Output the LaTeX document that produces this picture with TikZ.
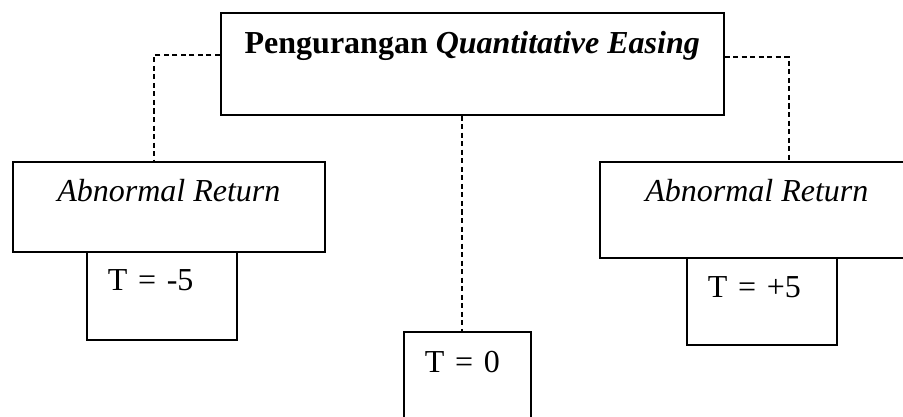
\documentclass[tikz,border=0pt,12pt]{standalone}
\usepackage{fontspec}
\setmainfont{Liberation Serif}

\begin{document}
\begin{tikzpicture}[x=0.375pt, y=-0.375pt,
		box/.style={draw, line width=0.6pt, inner sep=0pt, anchor=north west},
		tbox/.style={box, align=left, inner xsep=7.9pt},
		link/.style={dashed, dash pattern=on 1.9pt off 1.3pt, line width=0.55pt}]
				\useasboundingbox (0,0) rectangle (903,416);
				\clip (0,0) rectangle (903,416);

				\node (qe) [box, minimum width=188.6pt, text height=15.4pt, text depth=22.85pt] at (220,12) {\textbf{Pengurangan \textit{Quantitative Easing}}};
				\node (arL) [box, minimum width=117pt, text height=15pt, text depth=18.75pt] at (12,161) {\textit{Abnormal Return}};
				\node (arR) [box, minimum width=117.75pt, text height=15pt, text depth=21pt] at (599,161) {\textit{Abnormal Return}};
				\node (tm) [tbox, text width=40.45pt, text height=14.6pt, text depth=18.4pt] at (86,251) {T = -5};
				\node (tp) [tbox, text width=40.45pt, text height=15pt, text depth=17.6pt] at (686,257) {T = +5};
				\node (tz) [tbox, text width=31.8pt, text height=15.4pt, text depth=20.2pt] at (403,331) {T = 0};

				\coordinate (jl) at (154,55);
				\coordinate (jr) at (789,57);
				\coordinate (jc) at (462,0);

				\draw[link] (qe.west |- jl) -- (jl) -- (arL.north -| jl);
				\draw[link] (qe.east |- jr) -- (jr) -- (arR.north -| jr);
				\draw[link] (qe.south -| jc) -- (tz.north -| jc);
			\end{tikzpicture}
\end{document}
